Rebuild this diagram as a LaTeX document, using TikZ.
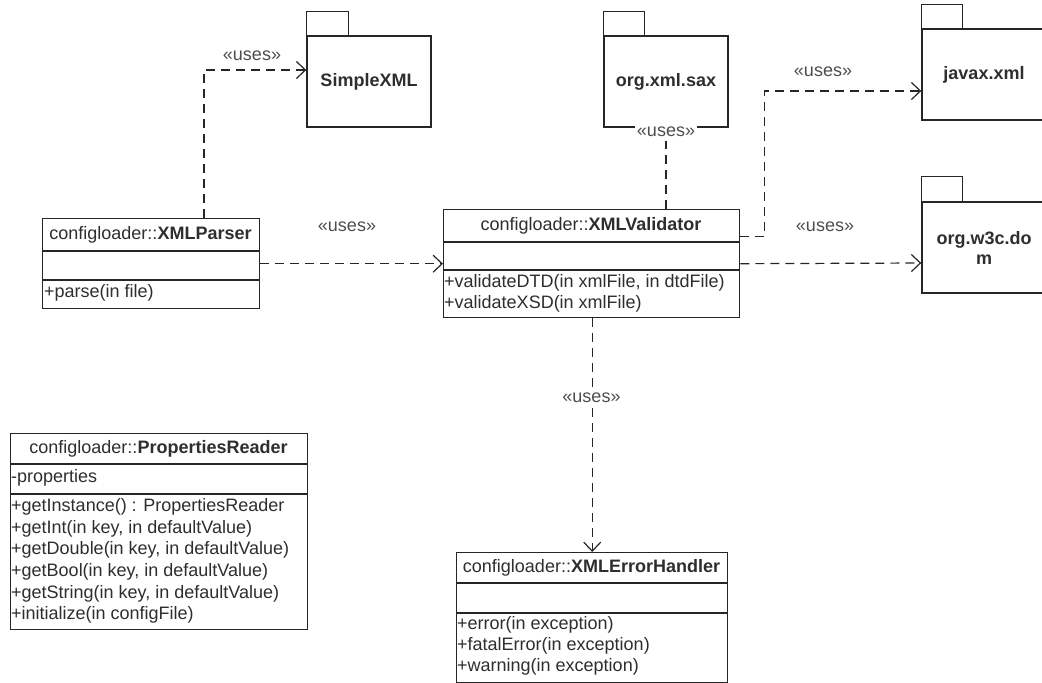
\documentclass[tikz,border=0pt]{standalone}
\usepackage{fontspec}
\setmainfont{Liberation Sans}
\usetikzlibrary{arrows.meta}
\definecolor{ink}{HTML}{262626}
\definecolor{txt}{HTML}{2E2E2E}
\begin{document}
\begin{tikzpicture}[x=1pt,y=-1pt,
  every node/.style={font=\fontsize{18}{21.5}\selectfont, text=txt, inner sep=0pt},
  classbox/.style={draw=ink, line width=1.4pt, anchor=north west, fill=white},
  sep/.style={draw=ink, line width=1.4pt},
  pkg/.style={draw=ink, line width=1.4pt, minimum width=124pt, minimum height=91pt,
    align=center, font=\fontsize{18}{20}\selectfont\bfseries},
  pkgtab/.style={draw=ink, line width=1.4pt},
  title/.style={text height=13pt, text depth=4pt},
  member/.style={text height=13pt, text depth=4pt, anchor=west},
  dep/.style={draw=ink, line width=1.2pt, dash pattern=on 9pt off 6pt,
    -{Straight Barb[length=9pt,width=17pt,line width=1.2pt]}},
  stereo/.style={text=txt!85, text height=13pt, text depth=4pt}]

\useasboundingbox (0,0) rectangle (1042,683);

% ---------- packages ----------
\node[pkg] (simplexml) at (369,81.5) {SimpleXML};
\draw[pkgtab] (simplexml.north west) rectangle ++(42,-24);
\node[pkg] (sax) at (666,81.5) {org.xml.sax};
\draw[pkgtab] (sax.north west) rectangle ++(41,-24);
\node[pkg] (javax) at (984,74.5) {javax.xml};
\draw[pkgtab] (javax.north west) rectangle ++(41,-24);
\node[pkg] (w3c) at (984,247.5) {org.w3c.do\\m};
\draw[pkgtab] (w3c.north west) rectangle ++(41,-25);

% ---------- XMLParser ----------
\node[classbox, minimum width=217pt, minimum height=90pt] (parser) at (42,218) {};
\draw[sep] ([yshift=-33pt]parser.north west) -- ([yshift=-33pt]parser.north east);
\draw[sep] ([yshift=-62pt]parser.north west) -- ([yshift=-62pt]parser.north east);
\node[title] (parserT) at (150.5,234.5) {configloader::\textbf{XMLParser}};
\node[member] (parserM1) at (44,293) {+parse(in file)};

% ---------- XMLValidator ----------
\node[classbox, minimum width=296pt, minimum height=108pt] (validator) at (443,209) {};
\draw[sep] ([yshift=-33pt]validator.north west) -- ([yshift=-33pt]validator.north east);
\draw[sep] ([yshift=-61pt]validator.north west) -- ([yshift=-61pt]validator.north east);
\node[title] (validatorT) at (591,225.5) {configloader::\textbf{XMLValidator}};
\node[member] (validatorM1) at (444,283) {+validateDTD(in xmlFile, in dtdFile)};
\node[member] (validatorM2) at (444,304) {+validateXSD(in xmlFile)};

% ---------- XMLErrorHandler ----------
\node[classbox, minimum width=271pt, minimum height=130pt] (errh) at (456,552) {};
\draw[sep] ([yshift=-31pt]errh.north west) -- ([yshift=-31pt]errh.north east);
\draw[sep] ([yshift=-61pt]errh.north west) -- ([yshift=-61pt]errh.north east);
\node[title] (errhT) at (591.5,567.5) {configloader::\textbf{XMLErrorHandler}};
\node[member] (errhM1) at (457,625) {+error(in exception)};
\node[member] (errhM2) at (457,646) {+fatalError(in exception)};
\node[member] (errhM3) at (457,667) {+warning(in exception)};

% ---------- PropertiesReader ----------
\node[classbox, minimum width=297pt, minimum height=196pt] (props) at (10,433) {};
\draw[sep] ([yshift=-31pt]props.north west) -- ([yshift=-31pt]props.north east);
\draw[sep] ([yshift=-61pt]props.north west) -- ([yshift=-61pt]props.north east);
\node[title] (propsT) at (158.5,448.5) {configloader::\textbf{PropertiesReader}};
\node[member] (propsA1) at (11,478) {-properties};
\node[member] (propsM1) at (11,507) {+getInstance() : PropertiesReader};
\node[member] (propsM2) at (11,529) {+getInt(in key, in defaultValue)};
\node[member] (propsM3) at (11,550) {+getDouble(in key, in defaultValue)};
\node[member] (propsM4) at (11,572) {+getBool(in key, in defaultValue)};
\node[member] (propsM5) at (11,594) {+getString(in key, in defaultValue)};
\node[member] (propsM6) at (11,615) {+initialize(in configFile)};

% ---------- dependencies ----------
\draw[dep] ([xshift=162pt]parser.north west) |- ([yshift=11.5pt]simplexml.west);
\node[stereo] (u1) at (252,56) {«uses»};

\draw[dep] (parser.east) -- (validator.west);
\node[stereo] (u2) at (347,227) {«uses»};

\draw[dep] (sax.south |- validator.north) -- (sax.south);
\node[stereo, fill=white, inner xsep=2pt] (u3) at (666,132) {«uses»};

\draw[dep] ([yshift=27pt]validator.east) -- ++(24,0) |- ([yshift=-16.5pt]javax.west);
\node[stereo] (u4) at (823,72) {«uses»};

\draw[dep] (validator.east) -- ([yshift=-15.5pt]w3c.west);
\node[stereo] (u5) at (825,227) {«uses»};

\draw[dep] (errh.north |- validator.south) -- (errh.north);
\node[stereo, fill=white, inner xsep=1pt] (u6) at (591.5,398) {«uses»};

\end{tikzpicture}
\end{document}
